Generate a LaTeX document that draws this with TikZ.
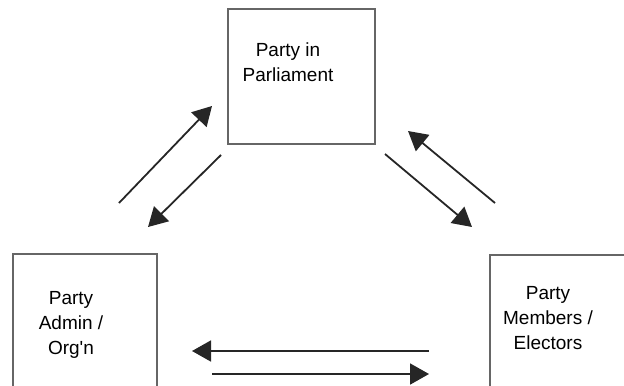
\documentclass[tikz,border=0pt]{standalone}
\usepackage{fontspec}
\setmainfont{Liberation Sans}
\usetikzlibrary{arrows.meta}

\begin{document}
\begin{tikzpicture}[x=0.5pt,y=-0.5pt,
  box/.style={draw=black!60,line width=0.7pt,inner sep=0pt},
  txt/.style={align=center,inner sep=0pt,font=\fontsize{9.5}{12.5}\selectfont},
  flow/.style={draw=black!85,line width=0.9pt,-{Triangle[length=9.5pt,width=10.5pt]}}]
\useasboundingbox (0,0) rectangle (624,385);
\clip (0,0) rectangle (624,385);
% boxes
\node [box,minimum width=73.5pt,minimum height=67.5pt] (p) at (301.5,76.5) {};
\node [box,minimum width=72pt,minimum height=88pt] (a) at (85,342) {};
\node [box,minimum width=95pt,minimum height=87.5pt] (m) at (585,342.5) {};
\node [txt] (pt) at (288,62) {Party in\\Parliament};
\node [txt] (at) at (71,325) {Party\\Admin /\\Org\textquotesingle n};
\node [txt] (mt) at (548,318.5) {Party\\Members /\\Electors};
% arrow ends
\coordinate (ap1) at (119,203); \coordinate (ap2) at (212,106);
\coordinate (pa1) at (221,155); \coordinate (pa2) at (148,227);
\coordinate (mp1) at (495,203); \coordinate (mp2) at (408,131);
\coordinate (pm1) at (385,154); \coordinate (pm2) at (472,227);
\coordinate (ma1) at (429,351); \coordinate (ma2) at (192,351);
\coordinate (am1) at (212,374); \coordinate (am2) at (429,374);
\draw [flow] (ap1) -- (ap2);
\draw [flow] (pa1) -- (pa2);
\draw [flow] (mp1) -- (mp2);
\draw [flow] (pm1) -- (pm2);
\draw [flow] (ma1) -- (ma2);
\draw [flow] (am1) -- (am2);
\end{tikzpicture}
\end{document}
